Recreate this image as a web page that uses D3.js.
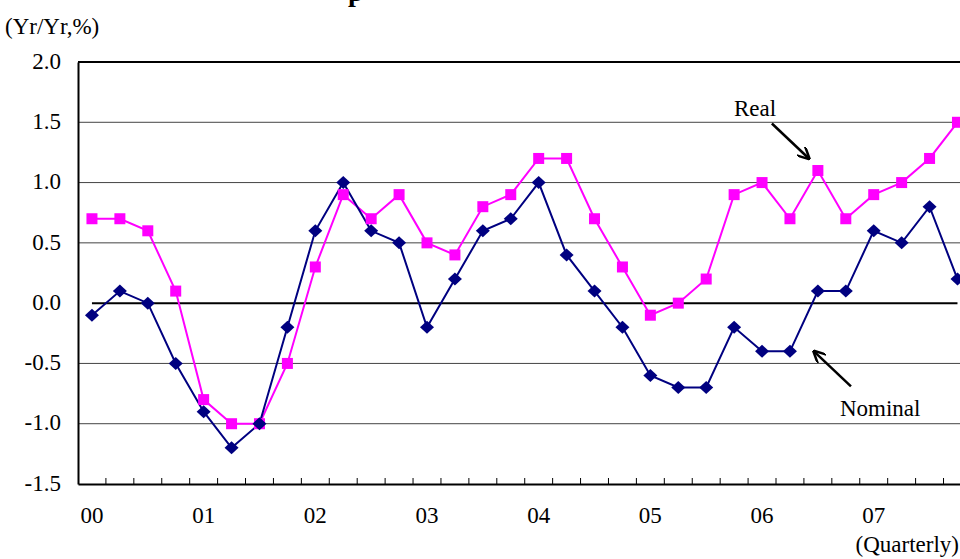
<!DOCTYPE html>
<html><head><meta charset="utf-8">
<script src="https://cdn.jsdelivr.net/npm/d3@7"></script>
<style>
html,body{margin:0;padding:0;background:#fff;overflow:hidden}
svg{display:block}
text{font-family:"Liberation Serif","Times New Roman",serif;fill:#000}
</style></head><body>
<svg id="c" width="960" height="559"></svg>
<script>
const years = ["00","01","02","03","04","05","06","07"];
const quarters = ["Q1","Q2","Q3","Q4"];
const categories = years.flatMap(y => quarters.map(q => y + q));
const realValues = [0.7,0.7,0.6,0.1, -0.8,-1.0,-1.0,-0.5, 0.3,0.9,0.7,0.9, 0.5,0.4,0.8,0.9,
                    1.2,1.2,0.7,0.3, -0.1,0.0,0.2,0.9, 1.0,0.7,1.1,0.7, 0.9,1.0,1.2,1.5];
const nominalValues = [-0.1,0.1,0.0,-0.5, -0.9,-1.2,-1.0,-0.2, 0.6,1.0,0.6,0.5, -0.2,0.2,0.6,0.7,
                       1.0,0.4,0.1,-0.2, -0.6,-0.7,-0.7,-0.2, -0.4,-0.4,0.1,0.1, 0.6,0.5,0.8,0.2];
const yTicks = [-1.5,-1.0,-0.5,0.0,0.5,1.0,1.5,2.0];

const svg = d3.select("#c");
const L = 78, T = 62, B = 484, R = 78 + 32*27.92;
const FS = 23;

const x = d3.scaleBand().domain(categories).range([L, R]).padding(0);
const y = d3.scaleLinear().domain([-1.5, 2.0]).range([B, T]);
const cx = d => x(d) + x.bandwidth()/2;

// title fragment (cut off at top of the picture, as in the reference)
svg.append("text").attr("x", 348).attr("y", 1).attr("font-weight","bold")
  .attr("font-size", 28).text("p");

// gridlines
svg.append("g").selectAll("line").data(yTicks.filter(v => v !== 0 && v !== -1.5 && v !== 2.0))
  .join("line").attr("x1", L).attr("x2", R).attr("y1", d => y(d)).attr("y2", d => y(d))
  .attr("stroke", "#444").attr("stroke-width", 1);

// top frame
svg.append("line").attr("x1", L).attr("x2", R).attr("y1", y(2.0)).attr("y2", y(2.0))
  .attr("stroke", "#000").attr("stroke-width", 2);

// zero line
svg.append("line").attr("x1", cx(categories[0])).attr("x2", cx(categories[categories.length-1]))
  .attr("y1", y(0)).attr("y2", y(0)).attr("stroke", "#000").attr("stroke-width", 2);

// y axis
const yAxis = svg.append("g").attr("transform", `translate(${L},0)`)
  .call(d3.axisLeft(y).tickValues(yTicks).tickFormat(d3.format(".1f")).tickSize(0).tickPadding(17));
yAxis.select(".domain").attr("stroke-width", 2);
yAxis.selectAll("text").attr("font-size", FS).attr("font-family", "Liberation Serif")
  .attr("dy", "0.27em")
  .text(d => d3.format(".1f")(d).replace("\u2212","-"));

// x axis
const xAxis = svg.append("g").attr("transform", `translate(0,${B})`)
  .call(d3.axisBottom(x).tickValues([]).tickSizeOuter(0));
xAxis.select(".domain").attr("stroke-width", 2);
svg.append("g").selectAll("line").data(categories.slice(1))
  .join("line").attr("x1", d => x(d)).attr("x2", d => x(d)).attr("y1", B).attr("y2", B - 6)
  .attr("stroke", "#000").attr("stroke-width", 1);
svg.append("g").selectAll("text").data(years).join("text")
  .attr("x", d => cx(d + "Q1")).attr("y", 523).attr("text-anchor", "middle")
  .attr("font-size", FS).text(d => d);

// unit labels
svg.append("text").attr("x", 5).attr("y", 34).attr("font-size", FS).text("(Yr/Yr,%)");
svg.append("text").attr("x", 959).attr("y", 552).attr("text-anchor", "end").attr("font-size", FS).text("(Quarterly)");

// lines
const lineGen = vals => d3.line().x((d,i) => cx(categories[i])).y(d => y(d))(vals);
svg.append("path").attr("d", lineGen(realValues)).attr("fill", "none")
  .attr("stroke", "#FF00FF").attr("stroke-width", 2);
svg.append("path").attr("d", lineGen(nominalValues)).attr("fill", "none")
  .attr("stroke", "#000080").attr("stroke-width", 2);

// markers
svg.append("g").selectAll("rect").data(realValues).join("rect")
  .attr("x", (d,i) => cx(categories[i]) - 5.5).attr("y", d => y(d) - 5.5)
  .attr("width", 11).attr("height", 11).attr("fill", "#FF00FF");
svg.append("g").selectAll("path").data(nominalValues).join("path")
  .attr("d", (d,i) => { const px = cx(categories[i]), py = y(d), rx = 7, ry = 6.5;
     return `M${px},${py-ry}L${px+rx},${py}L${px},${py+ry}L${px-rx},${py}Z`; })
  .attr("fill", "#000080");

// annotations
const defs = svg.append("defs");
defs.append("marker").attr("id","ah").attr("viewBox","0 0 10 10").attr("refX",9).attr("refY",5)
  .attr("markerWidth",5).attr("markerHeight",5).attr("orient","auto")
  .append("path").attr("d","M0,0L10,5L0,10").attr("fill","none").attr("stroke","#000").attr("stroke-width",2);

const realIdx = 26, nomIdx = 25;
const rx = cx(categories[realIdx]), ry = y(realValues[realIdx]);
svg.append("text").attr("x", rx - 84).attr("y", ry - 55).attr("font-size", FS).text("Real");
svg.append("line").attr("x1", rx - 46).attr("y1", ry - 47).attr("x2", rx - 9).attr("y2", ry - 12)
  .attr("stroke", "#000").attr("stroke-width", 2.5).attr("marker-end", "url(#ah)");

const nx = cx(categories[nomIdx]), ny = y(nominalValues[nomIdx]);
svg.append("text").attr("x", nx + 50).attr("y", ny + 65).attr("font-size", FS).text("Nominal");
svg.append("line").attr("x1", nx + 61).attr("y1", ny + 35).attr("x2", nx + 24).attr("y2", ny)
  .attr("stroke", "#000").attr("stroke-width", 2.5).attr("marker-end", "url(#ah)");
</script>
</body></html>
